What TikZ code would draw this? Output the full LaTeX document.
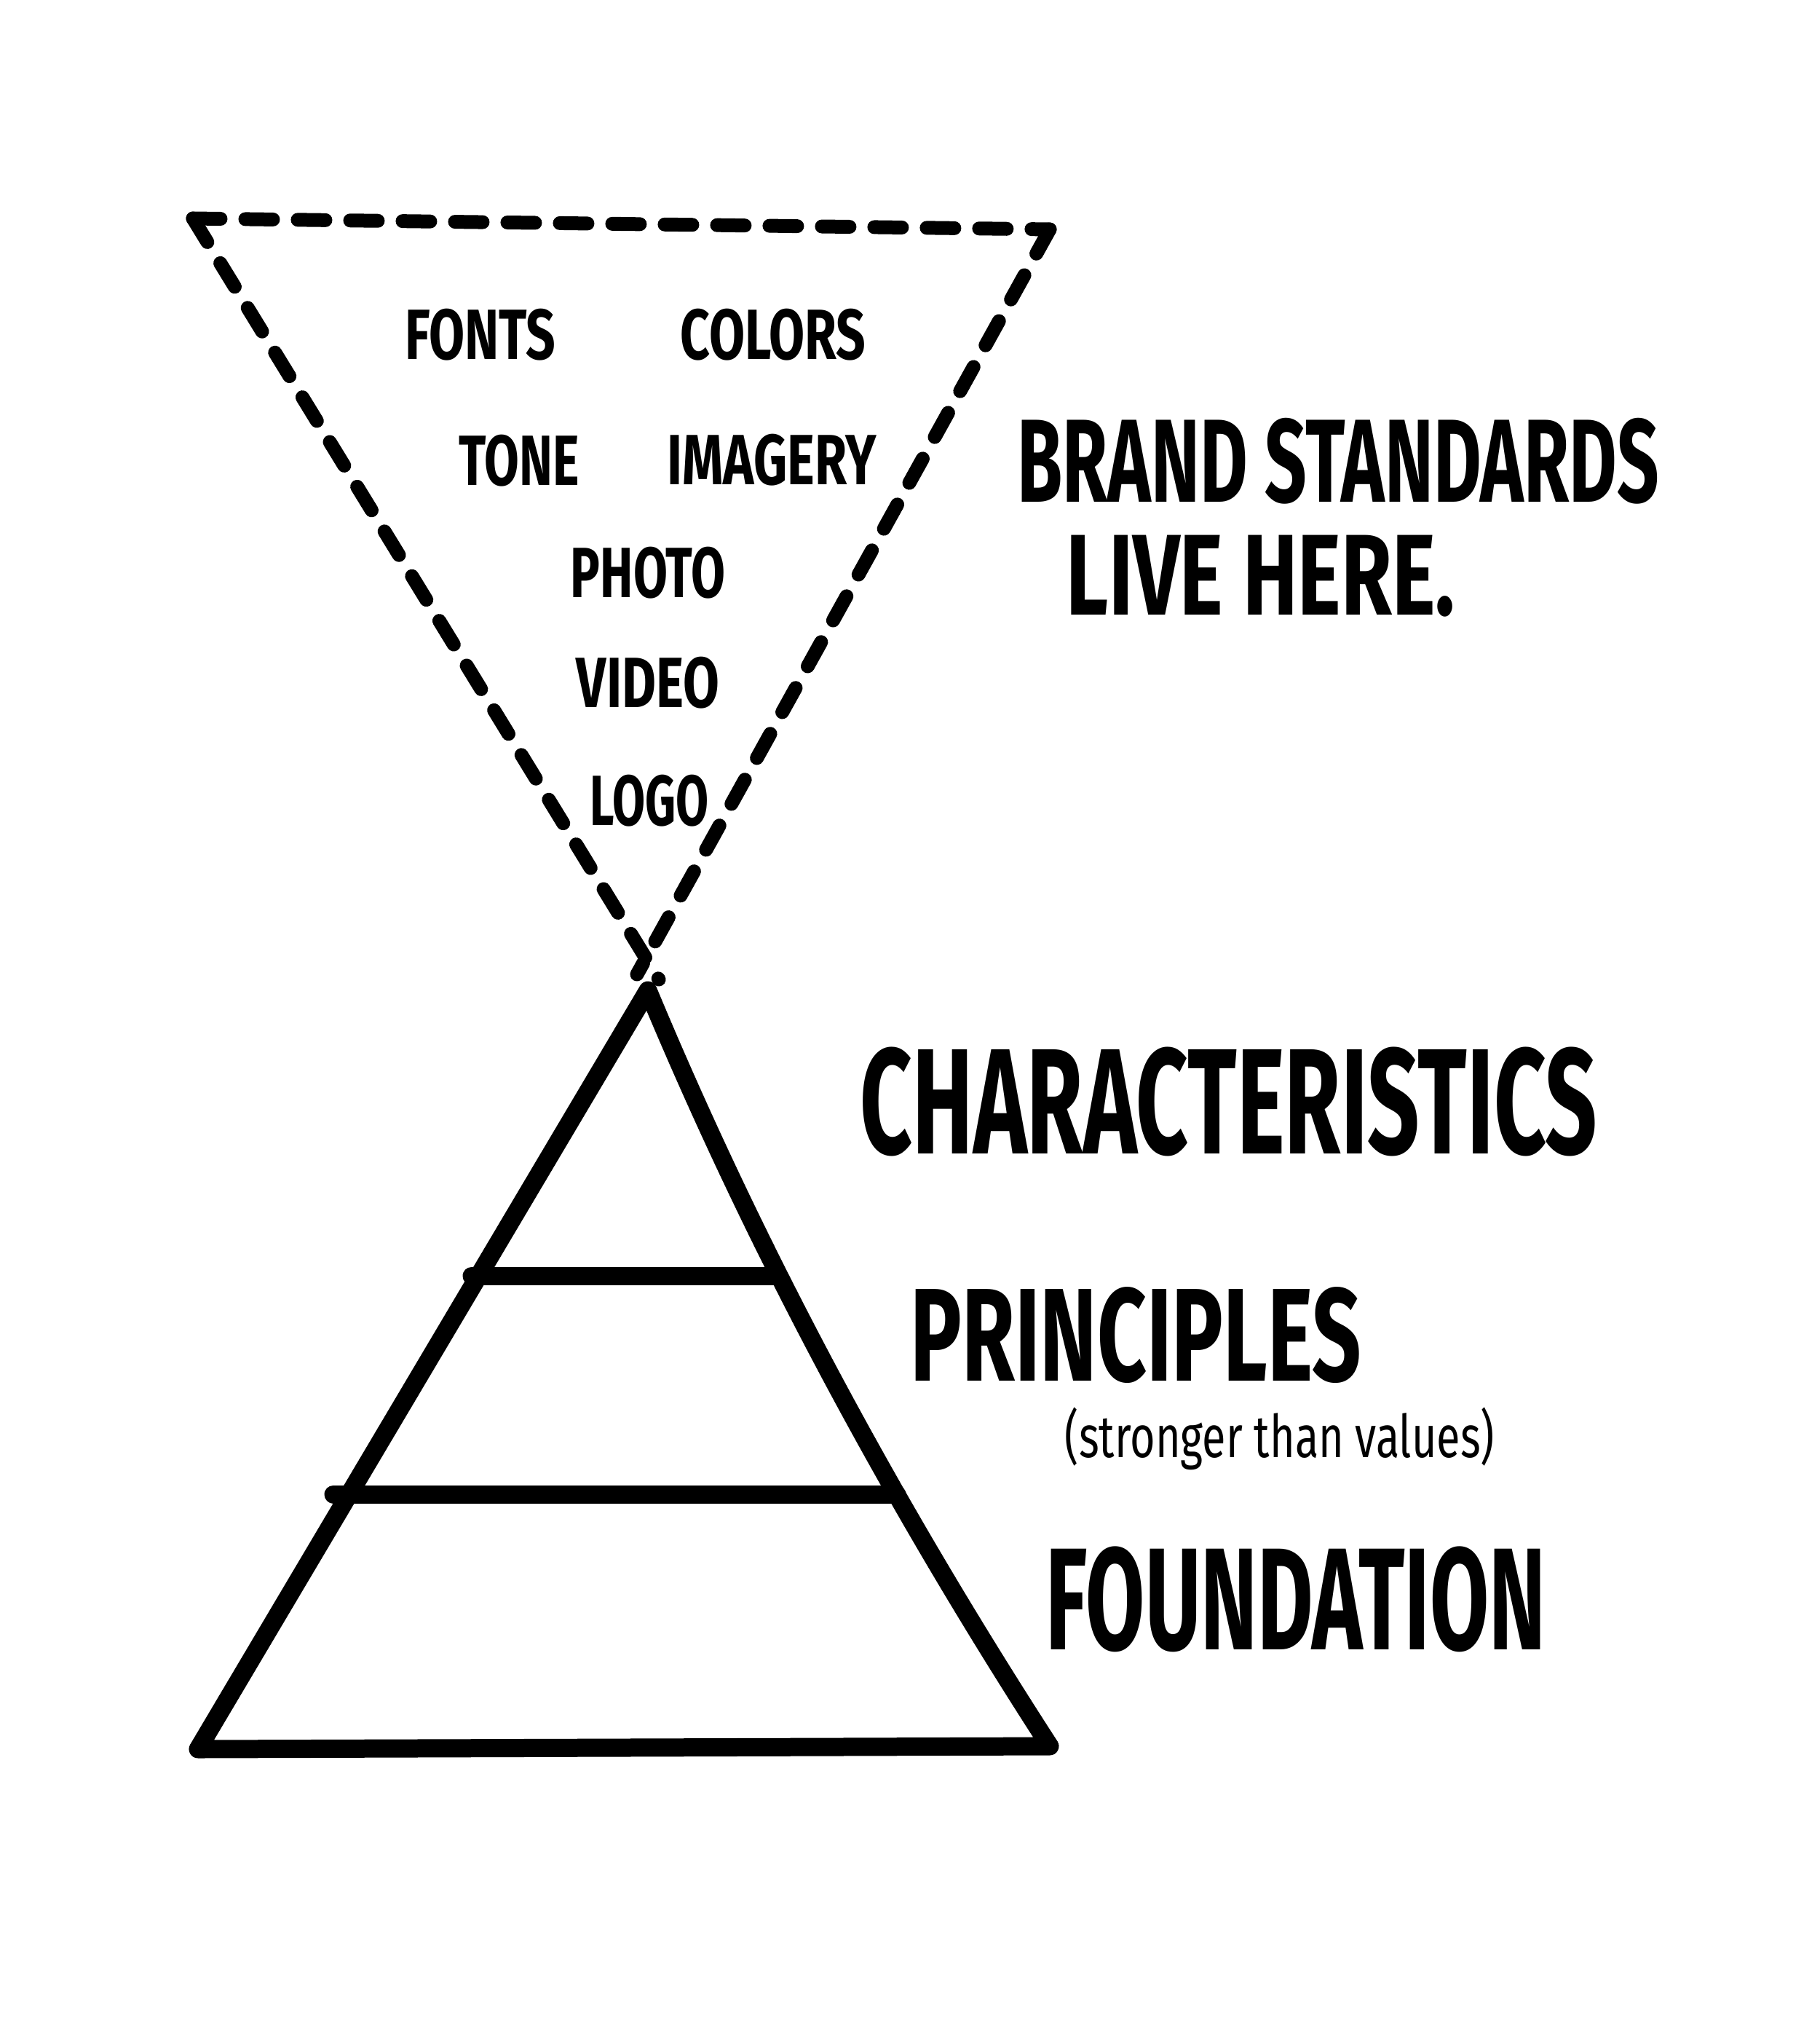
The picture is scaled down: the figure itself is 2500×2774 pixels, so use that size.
\documentclass[tikz,border=0pt]{standalone}
\usepackage{fontspec}
\setmainfont{Fira Sans}
\usepackage{graphicx}
\begin{document}
\begin{tikzpicture}[x=1pt,y=-1pt,
  dashline/.style={line width=19pt,line cap=round,dash pattern=on 38pt off 34pt},
  solidline/.style={line width=25pt,line cap=round,line join=round},
  lbl/.style={inner sep=0pt,font=\bfseries}]
\useasboundingbox[fill=white] (0,0) rectangle (2500,2774);
% dashed inverted triangle
\coordinate (tl) at (265,300);
\coordinate (tr) at (1442,315);
\coordinate (le) at (905,1345);
\coordinate (re) at (875,1338);
\draw[dashline] (tl) -- (tr);
\draw[dashline] (tl) -- (le);
\draw[dashline] (tr) -- (re);
% pyramid
\coordinate (ap) at (890,1360);
\coordinate (bl) at (272,2402);
\coordinate (br) at (1442,2398);
\draw[solidline] (ap) -- (bl) -- (br) .. controls (1218,2052) and (1034,1706) .. (ap) -- cycle;
\coordinate (l1a) at (648,1752);
\coordinate (l1b) at (1068,1752);
\coordinate (l2a) at (458,2052);
\coordinate (l2b) at (1232,2052);
\draw[solidline] (l1a) -- (l1b);
\draw[solidline] (l2a) -- (l2b);
% inside labels
\node[lbl] (fonts) at (660,460) {\resizebox*{207pt}{71pt}{FONTS}};
\node[lbl] (colors) at (1062,460) {\resizebox*{255pt}{71pt}{COLORS}};
\node[lbl] (tone) at (713,633) {\resizebox*{165pt}{71pt}{TONE}};
\node[lbl] (imagery) at (1060,632) {\resizebox*{287pt}{71pt}{IMAGERY}};
\node[lbl] (photo) at (890,787) {\resizebox*{212pt}{71pt}{PHOTO}};
\node[lbl] (video) at (890,938) {\resizebox*{196pt}{71pt}{VIDEO}};
\node[lbl] (logo) at (892,1100) {\resizebox*{163pt}{71pt}{LOGO}};
% right labels
\node[lbl] (brand) at (1838,633) {\resizebox*{881pt}{118pt}{BRAND STANDARDS}};
\node[lbl] (live) at (1732,791) {\resizebox*{534pt}{112pt}{LIVE HERE.}};
\node[lbl] (char) at (1688,1513) {\resizebox*{1012pt}{150pt}{CHARACTERISTICS}};
\node[lbl] (prin) at (1560,1834) {\resizebox*{619pt}{132pt}{PRINCIPLES}};
\node[inner sep=0pt] (strong) at (1758,1976) {\resizebox*{590pt}{86pt}{(stronger than values)}};
\node[lbl] (found) at (1780,2196) {\resizebox*{686pt}{145pt}{FOUNDATION}};
\end{tikzpicture}
\end{document}
